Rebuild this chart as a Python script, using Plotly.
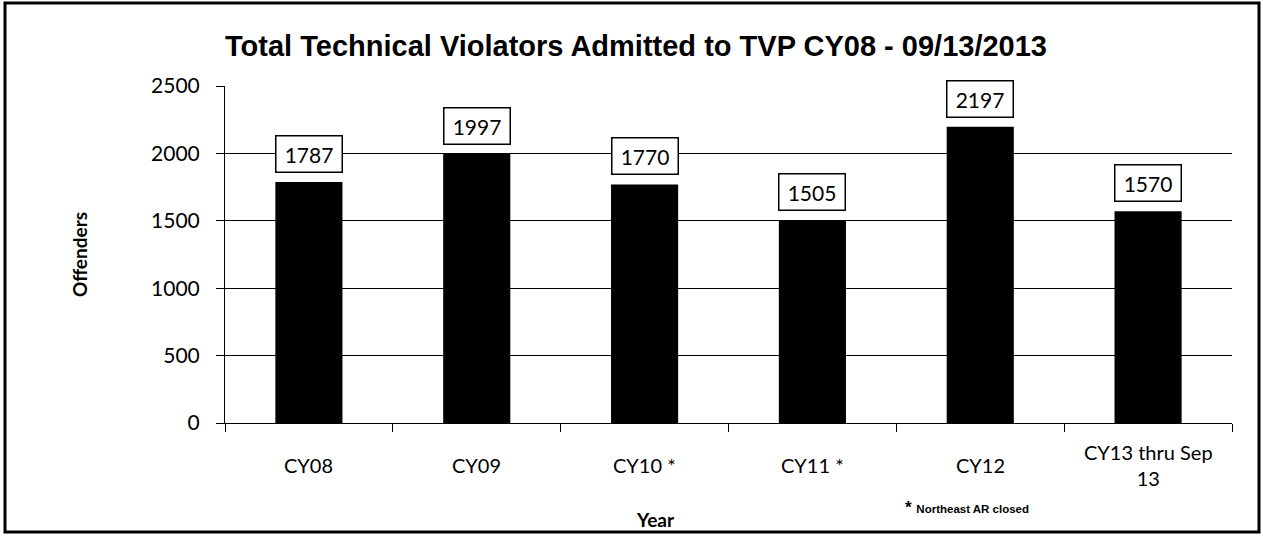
import plotly.graph_objects as go

categories = ["CY08", "CY09", "CY10 *", "CY11 *", "CY12", "CY13 thru Sep<br>13"]
offenders = [1787, 1997, 1770, 1505, 2197, 1570]
y_ticks = [0, 500, 1000, 1500, 2000, 2500]

L, R, T, B = 225, 31, 86, 114
W, H = 1263, 537
pw, ph = W - L - R, H - T - B

LBL = "Lato, Open Sans, Liberation Sans"
fig = go.Figure()
fig.add_trace(go.Bar(x=categories, y=offenders, marker=dict(color="black", line=dict(width=0)),
                     width=0.4, showlegend=False))

for c, v in zip(categories, offenders):
    fig.add_annotation(x=c, y=v, text=str(v), showarrow=False, yanchor="bottom", yshift=9,
                       width=57, height=27,
                       font=dict(family=LBL, size=21, color="black"),
                       bordercolor="black", borderwidth=1.5, borderpad=4, bgcolor="white")

# category labels (vertically centred like the original)
for c in categories:
    fig.add_annotation(x=c, xref="x", yref="paper", y=0, yshift=-42, text=c, showarrow=False,
                       yanchor="middle", xanchor="center", align="center",
                       font=dict(family=LBL, size=20, color="black"))

fig.add_annotation(xref="paper", yref="paper", x=(655 - L) / pw, y=(H - B - 519) / ph,
                   text="<b>Year</b>", showarrow=False, xanchor="center", yanchor="middle",
                   font=dict(family=LBL, size=19, color="black"))

fig.add_annotation(xref="paper", yref="paper", x=(903 - L) / pw, y=(H - B - 507) / ph,
                   text="<b>*</b> <span style='font-size:11.5px'><b>Northeast AR closed</b></span>",
                   showarrow=False, xanchor="left", yanchor="middle",
                   font=dict(family="Liberation Sans", size=17, color="black"))

fig.add_shape(type="rect", xref="paper", yref="paper",
              x0=(5 - L) / pw, x1=(1259 - L) / pw, y0=(H - B - 532) / ph, y1=(H - B - 3) / ph,
              line=dict(color="black", width=3), layer="below")

fig.update_layout(
    width=W, height=H,
    margin=dict(l=L, r=R, t=T, b=B),
    paper_bgcolor="white", plot_bgcolor="white",
    title=dict(text="<b>Total Technical Violators Admitted to TVP CY08 - 09/13/2013</b>",
               x=636 / W, xanchor="center", y=1 - 46 / H, yanchor="middle",
               font=dict(family="Liberation Sans", size=29, color="black")),
    xaxis=dict(type="category", tickson="boundaries", ticks="outside", ticklen=8, tickcolor="black",
               showline=True, linecolor="black", linewidth=1, showgrid=False,
               showticklabels=False),
    yaxis=dict(range=[0, 2500], tickvals=y_ticks, ticks="outside", ticklen=8, tickcolor="black",
               showline=True, linecolor="black", linewidth=1,
               showgrid=True, gridcolor="black", gridwidth=1, zeroline=False,
               ticklabelstandoff=12,
               tickfont=dict(family=LBL, size=21, color="black"),
               title=dict(text="<b>Offenders</b>", standoff=58,
                          font=dict(family=LBL, size=19, color="black"))),
)

fig.write_html("out.html", post_script="document.body.style.margin='0';",
               config={"displayModeBar": False})
